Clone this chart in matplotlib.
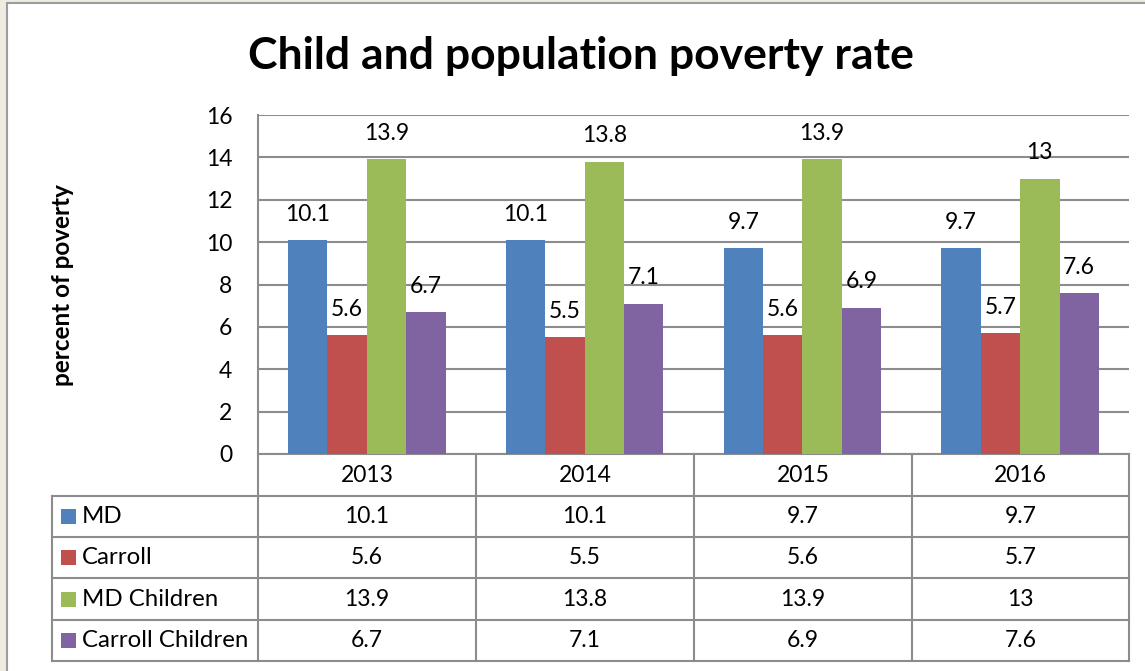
import numpy as np
import matplotlib.pyplot as plt
from matplotlib.patches import Rectangle
from matplotlib.lines import Line2D

plt.rcParams['font.family'] = ['Lato', 'DejaVu Sans']

years = ['2013', '2014', '2015', '2016']
series_names = ['MD', 'Carroll', 'MD Children', 'Carroll Children']
md = [10.1, 10.1, 9.7, 9.7]
carroll = [5.6, 5.5, 5.6, 5.7]
md_children = [13.9, 13.8, 13.9, 13]
carroll_children = [6.7, 7.1, 6.9, 7.6]
colors = ['#4F81BD', '#C0504D', '#9BBB59', '#8064A2']

W, H = 1145, 671
fig = plt.figure(figsize=(W / 100, H / 100), dpi=100, facecolor='#EEECE1')


def fx(px):
    return px / W


def fy(py):
    return 1 - py / H


# white chart area with gray border
fig.patches.append(Rectangle((fx(7), fy(700)), fx(1200), fy(3) - fy(700),
                             transform=fig.transFigure, facecolor='white',
                             edgecolor='#9C9C9C', lw=1.5, zorder=-5))

fs = 16.5

# plot area
left, right, top, bottom = 258, 1129, 115, 454
ax = fig.add_axes([fx(left), fy(bottom), fx(right - left), fy(top) - fy(bottom)])
ax.set_zorder(2)
ax.patch.set_alpha(0)

all_series = [md, carroll, md_children, carroll_children]
x = np.arange(len(years))
w = 0.181
for i, (vals, c) in enumerate(zip(all_series, colors)):
    pos = x + (i - 1.5) * w
    ax.bar(pos, vals, w, color=c, zorder=3)
    for p, v in zip(pos, vals):
        ax.annotate(f'{v:g}', (p, v), xytext=(0, 18.7), textcoords='offset points',
                    ha='center', va='center', fontsize=fs)

ax.set_xlim(-0.5, 3.5)
ax.set_ylim(0, 16)
ax.set_yticks(range(0, 17, 2))
ax.set_xticks([])
ax.grid(axis='y', color='#8C8C8C', lw=1.5, zorder=1)
ax.tick_params(axis='y', length=0, pad=18.5, labelsize=fs)
for s in ['top', 'right', 'bottom']:
    ax.spines[s].set_visible(False)
ax.spines['left'].set_color('#8C8C8C')
ax.spines['left'].set_linewidth(1.5)

fig.text(fx(581), fy(56), 'Child and population poverty rate', ha='center', va='center',
         fontsize=32, fontweight='bold')
fig.text(fx(62), fy(285), 'percent of poverty', rotation=90, ha='center', va='center',
         fontsize=17.5, fontweight='bold')

# data table
lc = '#8C8C8C'
lw = 1.5
col_edges = [258, 476, 694, 912, 1129]
row_edges = [454, 496, 537, 578, 620, 661]


def hline(py, x0, x1):
    fig.add_artist(Line2D([fx(x0), fx(x1)], [fy(py), fy(py)], color=lc, lw=lw,
                          transform=fig.transFigure))


def vline(px, y0, y1):
    fig.add_artist(Line2D([fx(px), fx(px)], [fy(y0), fy(y1)], color=lc, lw=lw,
                          transform=fig.transFigure))


hline(row_edges[0], 258, 1129)
for r in row_edges[1:]:
    hline(r, 52, 1129)
vline(52, 496, 661)
vline(258, 454, 661)
for c in col_edges[1:]:
    vline(c, 454, 661)

for j, yr in enumerate(years):
    cx = (col_edges[j] + col_edges[j + 1]) / 2
    fig.text(fx(cx), fy((row_edges[0] + row_edges[1]) / 2), yr, ha='center',
             va='center', fontsize=fs)
for i, (name, vals, c) in enumerate(zip(series_names, all_series, colors)):
    cy = (row_edges[i + 1] + row_edges[i + 2]) / 2
    fig.patches.append(Rectangle((fx(61), fy(cy + 7.5)), fx(15), fy(cy - 7.5) - fy(cy + 7.5),
                                 transform=fig.transFigure, facecolor=c, edgecolor='none'))
    fig.text(fx(82), fy(cy), name, ha='left', va='center', fontsize=17.3)
    for j, v in enumerate(vals):
        cx = (col_edges[j] + col_edges[j + 1]) / 2
        fig.text(fx(cx), fy(cy), f'{v:g}', ha='center', va='center', fontsize=fs)

fig.savefig('out.png', dpi=100, facecolor=fig.get_facecolor())
